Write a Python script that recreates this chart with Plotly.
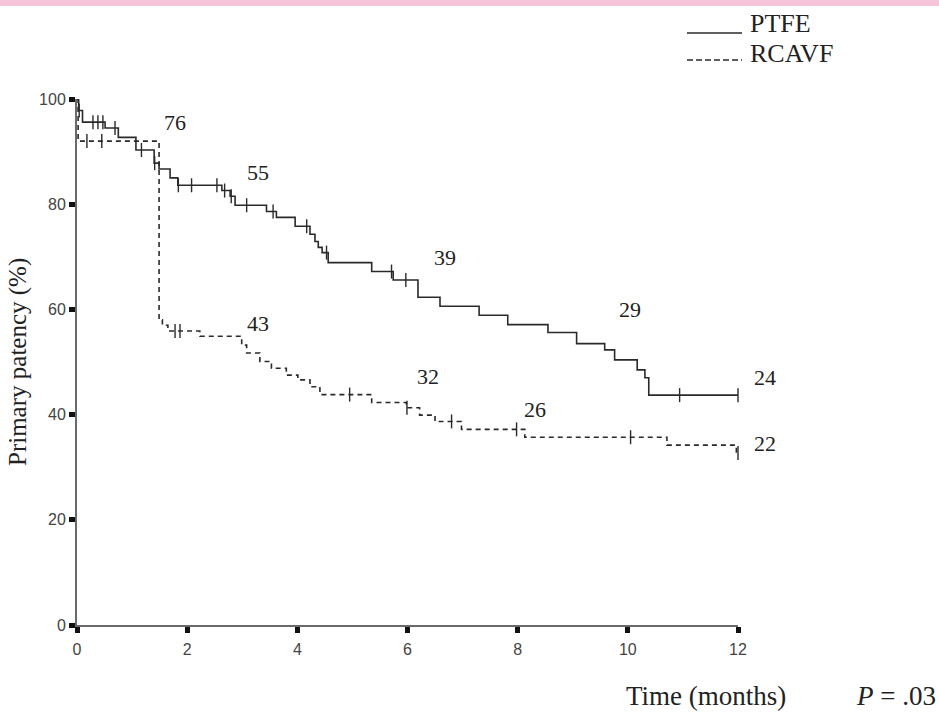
import numpy as np
import plotly.graph_objects as go

# ---- data ----
ptfe_time = [0, 0.03, 0.10, 0.51, 0.75, 1.07, 1.40, 1.49, 1.69, 1.83, 2.63, 2.78, 2.87,
             3.44, 3.62, 3.96, 4.23, 4.32, 4.38, 4.45, 4.56, 5.35, 5.74, 6.19, 6.59,
             7.30, 7.82, 8.55, 9.07, 9.58, 9.76, 10.17, 10.31, 10.38, 12.0]
ptfe_surv = [100, 97.8, 95.6, 94.5, 92.7, 90.3, 87.8, 86.7, 85.0, 83.6, 82.6, 81.5, 79.8,
             78.6, 77.5, 75.8, 74.3, 72.9, 71.8, 70.8, 68.9, 67.2, 65.6, 62.3, 60.6,
             58.9, 57.1, 55.6, 53.5, 52.3, 50.4, 48.5, 47.0, 43.7, 43.7]
ptfe_censor = [0.04, 0.29, 0.38, 0.47, 0.69, 1.17, 1.41, 1.84, 2.08, 2.54, 2.68, 2.80,
               3.08, 3.56, 4.17, 4.53, 5.71, 5.97, 10.94, 12.0]

rcavf_time = [0, 0.02, 1.49, 1.55, 1.65, 2.23, 2.99, 3.08, 3.32, 3.53, 3.80, 4.01, 4.23,
              4.41, 5.35, 5.98, 6.22, 6.50, 6.98, 8.13, 10.71, 11.97, 12.0]
rcavf_surv = [100, 92.0, 58.0, 57.0, 55.9, 54.9, 53.2, 51.7, 50.1, 48.8, 47.5, 46.6, 45.3,
              43.8, 42.3, 41.3, 39.9, 38.7, 37.2, 35.7, 34.2, 32.7, 32.7]
rcavf_censor = [0.18, 0.45, 1.78, 1.87, 4.95, 5.99, 6.80, 7.98, 10.05, 12.0]

# numbers at risk labels
ptfe_lbl_x = [1.78, 3.28, 6.68, 10.04, 12.49]
ptfe_lbl_y = [95.6, 86.1, 69.8, 59.9, 47.0]
ptfe_lbl = ["76", "55", "39", "29", "24"]
rcavf_lbl_x = [3.28, 6.37, 8.31, 12.49]
rcavf_lbl_y = [57.4, 47.3, 40.9, 34.6]
rcavf_lbl = ["43", "32", "26", "22"]

x_ticks = [0, 2, 4, 6, 8, 10, 12]
y_ticks = [0, 20, 40, 60, 80, 100]
X_RANGE = [0, 12]
Y_RANGE = [0, 100]


def step_value(times, surv, t):
    idx = np.searchsorted(np.array(times), t, side="right") - 1
    return [surv[i] for i in idx]


INK = "#2a2a2a"
SERIF = "Liberation Serif, Times New Roman, serif"
SANS = "Liberation Sans, Arial, sans-serif"

fig = go.Figure()
fig.add_trace(go.Scatter(x=ptfe_time, y=ptfe_surv, mode="lines", line_shape="hv",
                         line=dict(color=INK, width=1.6), showlegend=False,
                         cliponaxis=False))
fig.add_trace(go.Scatter(x=rcavf_time, y=rcavf_surv, mode="lines", line_shape="hv",
                         line=dict(color=INK, width=1.6, dash="5px,4px"), showlegend=False,
                         cliponaxis=False))
fig.add_trace(go.Scatter(x=ptfe_censor, y=step_value(ptfe_time, ptfe_surv, ptfe_censor),
                         mode="markers", showlegend=False, cliponaxis=False,
                         marker=dict(symbol="line-ns-open", size=10, color=INK,
                                     line=dict(color=INK, width=1.4))))
fig.add_trace(go.Scatter(x=rcavf_censor, y=step_value(rcavf_time, rcavf_surv, rcavf_censor),
                         mode="markers", showlegend=False, cliponaxis=False,
                         marker=dict(symbol="line-ns-open", size=10, color=INK,
                                     line=dict(color=INK, width=1.4))))

L, R, T, B = 77, 201, 99, 89
W, H = 939, 714
pw, ph = W - L - R, H - T - B


def px2paper(px, py):
    return (px - L) / pw, (H - B - py) / ph


shapes = []
# pink band at top
x0, y0 = px2paper(0, 0)
x1, y1 = px2paper(W, 6)
shapes.append(dict(type="rect", xref="paper", yref="paper", x0=x0, y0=y1, x1=x1, y1=y0,
                   fillcolor="#f6c4d8", line=dict(width=0), layer="below"))
# legend samples
a0, b0 = px2paper(687, 33)
a1, _ = px2paper(742, 33)
shapes.append(dict(type="line", xref="paper", yref="paper", x0=a0, y0=b0, x1=a1, y1=b0,
                   line=dict(color=INK, width=1.5)))
a0, b0 = px2paper(687, 60)
a1, _ = px2paper(742, 60)
shapes.append(dict(type="line", xref="paper", yref="paper", x0=a0, y0=b0, x1=a1, y1=b0,
                   line=dict(color=INK, width=1.5, dash="6px,3px")))

annotations = []
# numbers at risk: data values mapped onto the plotting area (some lie beyond x=12)
for lx, ly, lt in list(zip(ptfe_lbl_x, ptfe_lbl_y, ptfe_lbl)) + \
        list(zip(rcavf_lbl_x, rcavf_lbl_y, rcavf_lbl)):
    annotations.append(dict(text=lt, xref="paper", yref="paper",
                            x=(lx - X_RANGE[0]) / (X_RANGE[1] - X_RANGE[0]),
                            y=(ly - Y_RANGE[0]) / (Y_RANGE[1] - Y_RANGE[0]),
                            xanchor="center", yanchor="middle", showarrow=False,
                            font=dict(family=SERIF, size=22, color="#222")))

ax, ay = px2paper(748, 24)
annotations.append(dict(text="PTFE", xref="paper", yref="paper", x=ax, y=ay, xanchor="left",
                        yanchor="middle", showarrow=False,
                        font=dict(family=SERIF, size=26, color="#222")))
ax, ay = px2paper(748, 53)
annotations.append(dict(text="RCAVF", xref="paper", yref="paper", x=ax, y=ay, xanchor="left",
                        yanchor="middle", showarrow=False,
                        font=dict(family=SERIF, size=26, color="#222")))
ax, ay = px2paper(18, 362)
annotations.append(dict(text="Primary patency (%)", xref="paper", yref="paper", x=ax, y=ay,
                        xanchor="center", yanchor="middle", textangle=-90, showarrow=False,
                        font=dict(family=SERIF, size=25, color="#222")))
ax, ay = px2paper(706, 696)
annotations.append(dict(text="Time (months)", xref="paper", yref="paper", x=ax, y=ay,
                        xanchor="center", yanchor="middle", showarrow=False,
                        font=dict(family=SERIF, size=27, color="#222")))
ax, ay = px2paper(896, 696)
annotations.append(dict(text="<i>P</i> = .03", xref="paper", yref="paper", x=ax, y=ay,
                        xanchor="center", yanchor="middle", showarrow=False,
                        font=dict(family=SERIF, size=27, color="#222")))

axis_common = dict(showline=True, linecolor="#6a6a6a", linewidth=2, mirror=False,
                   ticks="outside", ticklen=6, tickwidth=5, tickcolor="#111",
                   showgrid=False, zeroline=False,
                   tickfont=dict(family=SANS, size=16, color="#444"))

fig.update_layout(
    width=W, height=H, margin=dict(l=L, r=R, t=T, b=B, pad=0),
    paper_bgcolor="white", plot_bgcolor="white",
    shapes=shapes, annotations=annotations,
    xaxis=dict(range=X_RANGE, tickvals=x_ticks, ticktext=[str(v) for v in x_ticks],
               ticklabelstandoff=3, **axis_common),
    yaxis=dict(range=Y_RANGE, tickvals=y_ticks, ticktext=[str(v) for v in y_ticks],
               ticklabelstandoff=0, **axis_common),
)

fig.write_html("out.html", config={"displayModeBar": False},
               post_script="document.body.style.margin='0px';")
